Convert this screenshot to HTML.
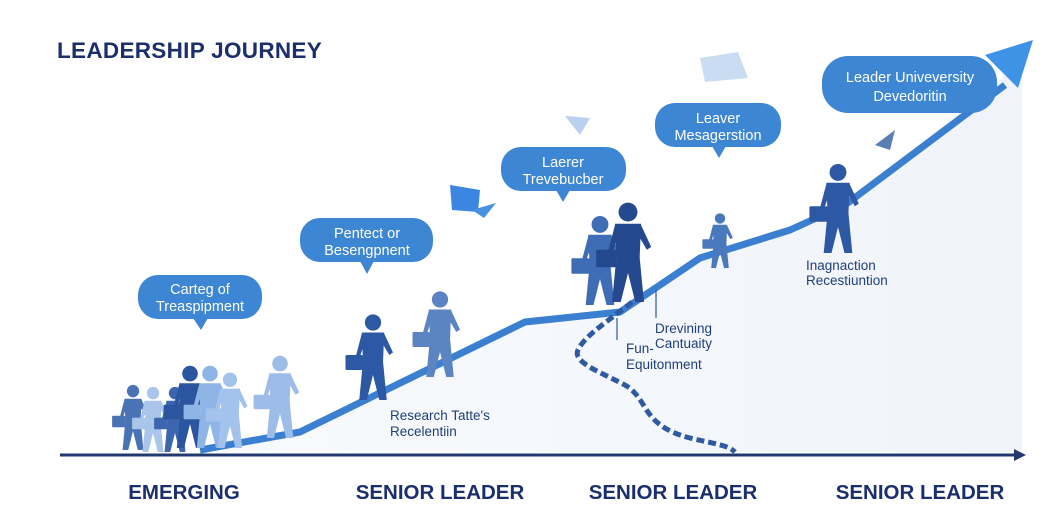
<!DOCTYPE html>
<html><head><meta charset="utf-8"><style>
html,body{margin:0;padding:0;background:#fff}
svg{display:block}
text{font-family:"Liberation Sans",sans-serif}
</style></head><body>
<svg width="1044" height="526" viewBox="0 0 1044 526" xmlns="http://www.w3.org/2000/svg">
<defs>
<linearGradient id="bg" x1="0" y1="0" x2="1" y2="0"><stop offset="0" stop-color="#f8fafd"/><stop offset="1" stop-color="#f0f4fa"/></linearGradient>
<g id="p">
<circle cx="0" cy="-62" r="6.5"/>
<path d="M-9,-54 L9,-54 L8,-30 L-8,-30 Z"/>
<path d="M-8,-31 L8,-31 L11,0 L5,0 L0,-20 L-5,0 L-11,0 Z"/>
<path d="M-9,-53 L-14,-34 L-11,-33 L-6,-48 Z"/>
<path d="M9,-53 L16,-38 L13,-36 L6,-48 Z"/>
<rect x="-22" y="-36" width="14" height="12" rx="1"/>
</g>
</defs>
<rect width="1044" height="526" fill="#fff"/>
<path d="M200,450 L300,432 L525,322 L620,312 L700,258 L790,230 L845,205 L1000,80 L1022,60 L1022,452 L200,452 Z" fill="url(#bg)"/>
<text x="57" y="58" font-size="22.5" font-weight="bold" fill="#1a2f6b" letter-spacing="0.3">LEADERSHIP JOURNEY</text>
<line x1="60" y1="455" x2="1018" y2="455" stroke="#22396f" stroke-width="3"/>
<path d="M1014,449 L1026,455 L1014,461 Z" fill="#22396f"/>
<path d="M200,450 L300,432 L525,322 L620,312 L700,258 L790,230 L845,205 L1005,85" fill="none" stroke="#3a7fd0" stroke-width="7" stroke-linejoin="round"/>
<path d="M985,55 L1033,40 L1018,88 Z" fill="#3f93e6"/>
<path d="M632,302 C610,320 585,335 578,350 C572,362 600,372 625,385 C650,400 640,425 690,438 C715,444 728,445 735,452" fill="none" stroke="#2d5aa0" stroke-width="5" stroke-dasharray="8,4"/>
<line x1="617" y1="318" x2="617" y2="340" stroke="#2d5aa0" stroke-width="1.2"/>
<line x1="656" y1="290" x2="656" y2="318" stroke="#2d5aa0" stroke-width="1.2"/>
<g fill="#3d86d3">
<rect x="138" y="275" width="124" height="44" rx="20"/><path d="M193,318 L201,330 L208,318 Z"/>
<rect x="300" y="218" width="133" height="44" rx="20"/><path d="M360,261 L367,274 L374,261 Z"/>
<rect x="501" y="147" width="125" height="44" rx="20"/><path d="M556,190 L563,202 L570,190 Z"/>
<rect x="655" y="103" width="126" height="44" rx="20"/><path d="M712,146 L719,158 L726,146 Z"/>
<rect x="822" y="56" width="175" height="57" rx="26"/>
</g>
<g fill="#fff" font-size="14.5" text-anchor="middle">
<text x="200" y="294">Carteg of</text><text x="200" y="311">Treaspipment</text>
<text x="367" y="238">Pentect or</text><text x="367" y="255">Besengpnent</text>
<text x="563" y="167">Laerer</text><text x="563" y="184">Trevebucber</text>
<text x="718" y="123">Leaver</text><text x="718" y="140">Mesagerstion</text>
<text x="910" y="82">Leader Univeversity</text><text x="910" y="101">Devedoritin</text>
</g>
<g fill="#1f3f7a" font-size="13.5">
<text x="390" y="420">Research Tatte's</text><text x="390" y="436">Recelentiin</text>
<text x="655" y="333">Drevining</text><text x="655" y="348">Cantuaity</text>
<text x="626" y="353">Fun-</text><text x="626" y="369">Equitonment</text>
<text x="806" y="270">Inagnaction</text><text x="806" y="285">Recestiuntion</text>
</g>
<g fill="#1a2f6b" font-size="20.5" font-weight="bold" text-anchor="middle">
<text x="184" y="499">EMERGING</text>
<text x="440" y="499">SENIOR LEADER</text>
<text x="673" y="499">SENIOR LEADER</text>
<text x="920" y="499">SENIOR LEADER</text>
</g>
<path d="M450,185 L480,190 L478,212 L452,210 Z" fill="#3b86e0"/>
<path d="M472,210 L496,203 L484,218 Z" fill="#4a90e0"/>
<path d="M700,58 L738,52 L748,78 L705,82 Z" fill="#c9dcf2"/>
<path d="M565,116 L590,118 L580,135 Z" fill="#b9d1ef"/>
<path d="M875,145 L895,130 L890,150 Z" fill="#5a7fb5"/>
<g>
<use href="#p" transform="translate(133,450) scale(0.95)" fill="#4a73b5"/>
<use href="#p" transform="translate(153,452) scale(0.95)" fill="#a9c6ea"/>
<use href="#p" transform="translate(175,452) scale(0.95)" fill="#3c67b0"/>
<use href="#p" transform="translate(190,448) scale(1.2)" fill="#2c55a0"/>
<use href="#p" transform="translate(210,448) scale(1.2)" fill="#8fb5e6"/>
<use href="#p" transform="translate(230,448) scale(1.1)" fill="#a4c3ec"/>
<use href="#p" transform="translate(280,438) scale(1.2)" fill="#9dbde8"/>
<use href="#p" transform="translate(373,400) scale(1.25)" fill="#2d58a3"/>
<use href="#p" transform="translate(440,377) scale(1.25)" fill="#5b84c2"/>
<use href="#p" transform="translate(600,305) scale(1.3)" fill="#3f6db5"/>
<use href="#p" transform="translate(628,302) scale(1.45)" fill="#24498f"/>
<use href="#p" transform="translate(720,268) scale(0.8)" fill="#4a78bd"/>
<use href="#p" transform="translate(838,253) scale(1.3)" fill="#2d58a3"/>
</g>
</svg>
</body></html>
